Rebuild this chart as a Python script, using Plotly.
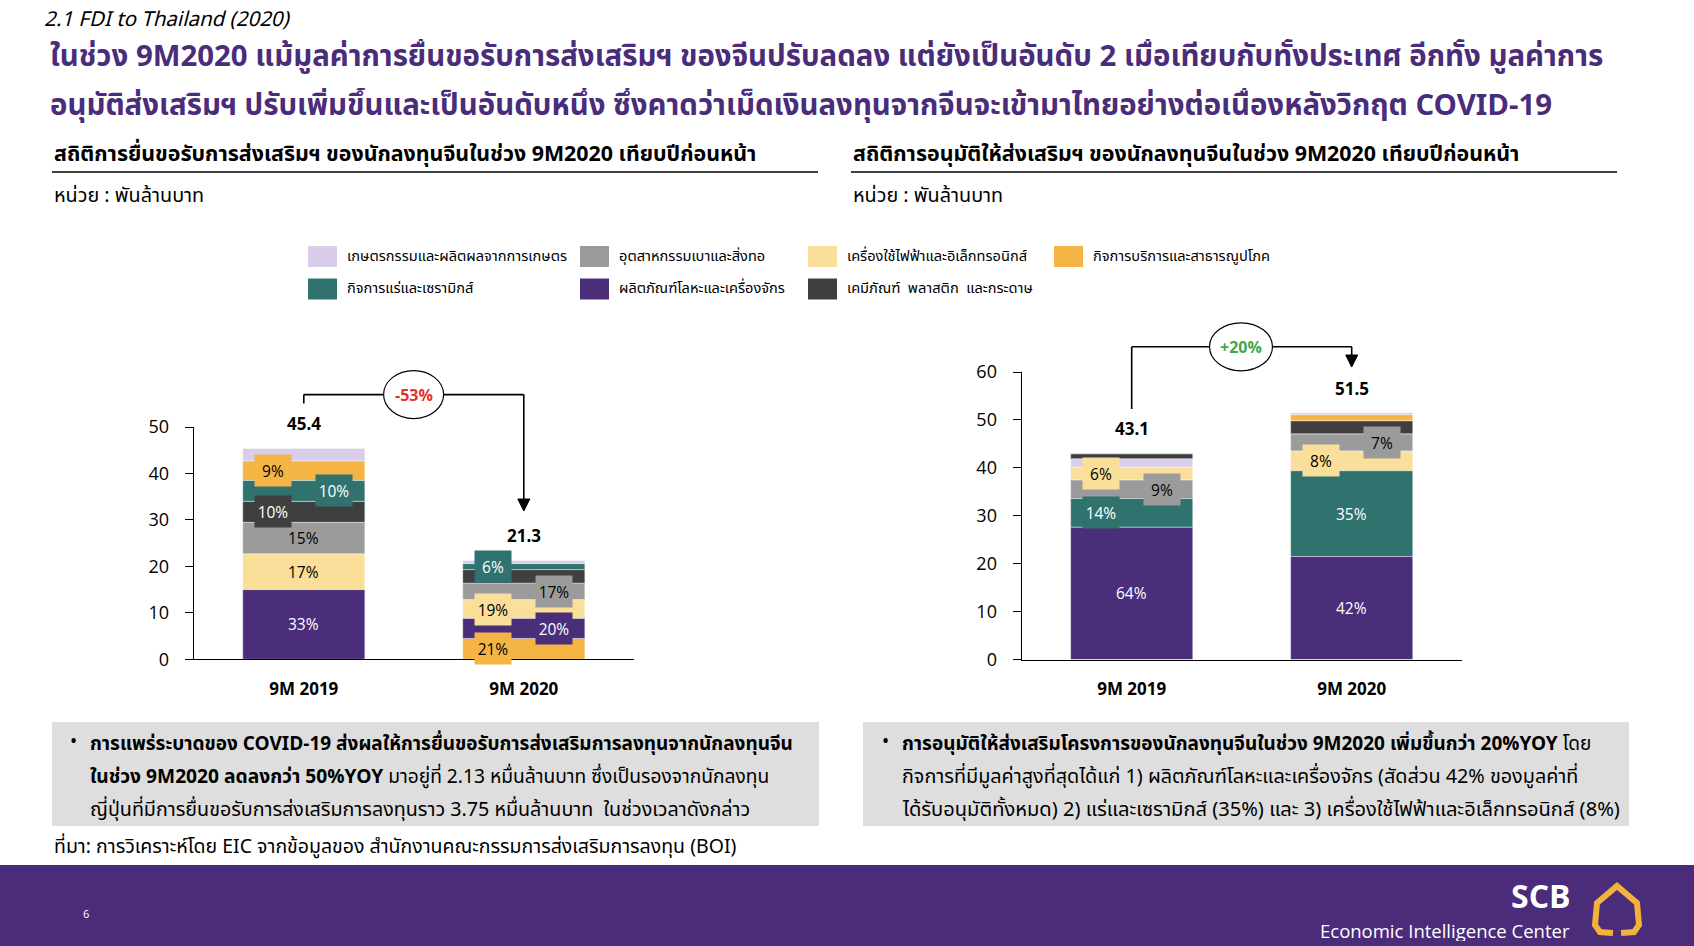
import plotly.graph_objects as go

# ---------------- DATA ----------------
CATEGORIES = ["9M 2019", "9M 2020"]

SECTORS = [
    "เกษตรกรรมและผลิตผลจากการเกษตร",
    "อุตสาหกรรมเบาและสิ่งทอ",
    "เครื่องใช้ไฟฟ้าและอิเล็กทรอนิกส์",
    "กิจการบริการและสาธารณูปโภค",
    "กิจการแร่และเซรามิกส์",
    "ผลิตภัณฑ์โลหะและเครื่องจักร",
    "เคมีภัณฑ์  พลาสติก  และกระดาษ",
]
COLORS = ["#D9CDEA", "#9B9B9B", "#F9DF9A", "#F4B544", "#30736E", "#4A2E7A", "#3F3F3F"]
TEXT_COLORS = ["#000000", "#000000", "#000000", "#000000", "#FFFFFF", "#FFFFFF", "#FFFFFF"]

# applications (thousand million baht), sector order as SECTORS
APP_2019 = [2.7, 6.8, 7.7, 4.2, 4.5, 15.0, 4.5]
APP_2020 = [0.7, 3.6, 4.0, 4.5, 1.3, 4.3, 2.9]
# approvals
APR_2019 = [1.8, 3.9, 2.6, 0.2, 6.0, 27.6, 1.0]
APR_2020 = [0.4, 3.6, 4.1, 1.3, 17.9, 21.5, 2.7]

# stacking order bottom -> top (sector indices)
APP_ORDER_2019 = [5, 2, 1, 6, 4, 3, 0]
APP_ORDER_2020 = [3, 5, 2, 1, 6, 4, 0]
APR_ORDER_2019 = [5, 4, 1, 2, 0, 6, 3]
APR_ORDER_2020 = [5, 4, 2, 1, 6, 3, 0]

# which segments carry a % label, and horizontal offset of the label (bar-width units)
APP_LAB_2019 = {5: 0, 2: 0, 1: 0, 6: -0.25, 4: 0.25, 3: -0.25}
APP_LAB_2020 = {3: -0.25, 5: 0.25, 2: -0.25, 1: 0.25, 4: -0.25}
APR_LAB_2019 = {5: 0, 4: -0.25, 1: 0.25, 2: -0.25}
APR_LAB_2020 = {5: 0, 4: 0, 2: -0.25, 1: 0.25}

CHANGE_LABELS = ["-53%", "+20%"]

# ---------------- LAYOUT HELPERS ----------------
W, H = 1694, 946
def px(x):
    return x / W
def py(y):
    return 1 - y / H

NUM_FONT = "Open Sans, Noto Sans, sans-serif"
THAI_FONT = "Tahoma, 'Noto Sans Thai', 'Noto Sans Thai UI', 'Noto Sans', sans-serif"
PURPLE = "#4A2C7B"
BAR_W = 0.555

panels = [
    dict(vals=[APP_2019, APP_2020], orders=[APP_ORDER_2019, APP_ORDER_2020],
         labels=[APP_LAB_2019, APP_LAB_2020], xa="x", ya="y",
         xdom=(px(193.8), px(633.8)), ydom=(py(659.3), py(427.1)), ymax=50,
         change=CHANGE_LABELS[0], ccolor="#E8302A",
         start_y=403.6, h_y=394.6, tip_y=511, ell_cx=413.6, ell_w=60, ell_h=48),
    dict(vals=[APR_2019, APR_2020], orders=[APR_ORDER_2019, APR_ORDER_2020],
         labels=[APR_LAB_2019, APR_LAB_2020], xa="x2", ya="y2",
         xdom=(px(1021.7), px(1461.7)), ydom=(py(659.6), py(372.0)), ymax=60,
         change=CHANGE_LABELS[1], ccolor="#3DAA4A",
         start_y=409, h_y=346.8, tip_y=367, ell_cx=1241, ell_w=63, ell_h=48),
]

fig = go.Figure()
annotations = []
shapes = []

for p in panels:
    for s in range(len(SECTORS)):
        ys, bases = [], []
        for j in range(2):
            order = p["orders"][j]
            pos = order.index(s)
            bases.append(sum(p["vals"][j][k] for k in order[:pos]))
            ys.append(p["vals"][j][s])
        fig.add_trace(go.Bar(
            x=CATEGORIES, y=ys, base=bases, width=BAR_W,
            marker=dict(color=COLORS[s], line=dict(color="rgba(255,255,255,0.7)", width=0.6)),
            xaxis=p["xa"], yaxis=p["ya"], showlegend=False, name=SECTORS[s],
            hovertemplate="%{x}: %{y}<extra>" + SECTORS[s] + "</extra>",
        ))
        # % labels
        for j in range(2):
            if s in p["labels"][j]:
                off = p["labels"][j][s]
                total = sum(p["vals"][j])
                v = ys[j]
                ann = dict(x=j + off * BAR_W, y=bases[j] + v / 2, xref=p["xa"], yref=p["ya"],
                           text=f"{round(100 * v / total)}%", showarrow=False,
                           xanchor="center", yanchor="middle",
                           font=dict(family=NUM_FONT, size=15.5, color=TEXT_COLORS[s]))
                if off != 0:
                    ann.update(bgcolor=COLORS[s], width=34, height=29)
                annotations.append(ann)
    # totals
    totals = [sum(p["vals"][j]) for j in range(2)]
    for j in range(2):
        annotations.append(dict(x=j, y=totals[j], xref=p["xa"], yref=p["ya"], text=f"<b>{totals[j]:.1f}</b>",
                                showarrow=False, xanchor="center", yanchor="bottom", yshift=11,
                                font=dict(family=NUM_FONT, size=17, color="#000")))
    # bracket
    x0p = p["xdom"][0] + 0.25 * (p["xdom"][1] - p["xdom"][0])
    x1p = p["xdom"][0] + 0.75 * (p["xdom"][1] - p["xdom"][0])
    line = dict(color="#000", width=1.6)
    shapes.append(dict(type="line", xref="paper", yref="paper", x0=x0p, x1=x0p,
                       y0=py(p["start_y"]), y1=py(p["h_y"]), line=line))
    shapes.append(dict(type="line", xref="paper", yref="paper", x0=x0p, x1=x1p,
                       y0=py(p["h_y"]), y1=py(p["h_y"]), line=line))
    shapes.append(dict(type="line", xref="paper", yref="paper", x0=x1p, x1=x1p,
                       y0=py(p["h_y"]), y1=py(p["tip_y"] - 10), line=line))
    tx = x1p * W
    shapes.append(dict(type="path", xref="paper", yref="paper",
                       path=f"M {px(tx-6)},{py(p['tip_y']-12)} L {px(tx+6)},{py(p['tip_y']-12)} L {px(tx)},{py(p['tip_y'])} Z",
                       fillcolor="#000", line=dict(color="#000", width=1)))
    shapes.append(dict(type="circle", xref="paper", yref="paper",
                       x0=px(p["ell_cx"] - p["ell_w"] / 2), x1=px(p["ell_cx"] + p["ell_w"] / 2),
                       y0=py(p["h_y"] + p["ell_h"] / 2), y1=py(p["h_y"] - p["ell_h"] / 2),
                       fillcolor="#FFFFFF", line=dict(color="#000", width=1.2)))
    annotations.append(dict(x=px(p["ell_cx"]), y=py(p["h_y"]), xref="paper", yref="paper",
                            text=f"<b>{p['change']}</b>", showarrow=False,
                            xanchor="center", yanchor="middle",
                            font=dict(family=NUM_FONT, size=16, color=p["ccolor"])))

# ---------------- AXES ----------------
for i, p in enumerate(panels):
    sx = "" if i == 0 else "2"
    fig.update_layout(**{
        "xaxis" + sx: dict(domain=list(p["xdom"]), type="category", range=[-0.5, 1.5],
                           showline=True, linecolor="#000", linewidth=1.3, ticks="",
                           showgrid=False, zeroline=False, anchor="y" + sx, fixedrange=True,
                           automargin=False,
                           tickfont=dict(family=NUM_FONT, size=17, color="#000", weight="bold"),
                           ticklabelstandoff=14),
        "yaxis" + sx: dict(domain=list(p["ydom"]), range=[0, p["ymax"]], dtick=10,
                           showline=True, linecolor="#000", linewidth=1.3, ticks="outside",
                           ticklen=8, tickcolor="#000", tickwidth=1.3, showgrid=False,
                           zeroline=False, anchor="x" + sx, fixedrange=True, automargin=False,
                           tickfont=dict(family=NUM_FONT, size=18, color="#000"),
                           ticklabelstandoff=12),
    })

# ---------------- TEXT / DECOR ----------------
def txt(x, y, text, size, color="#000", bold=False, italic=False, anchor="left", family=THAI_FONT, height=None):
    a = dict(x=px(x), y=py(y), xref="paper", yref="paper", text=text,
             showarrow=False, xanchor=anchor, yanchor="middle",
             font=dict(family=family, size=size, color=color,
                       weight="bold" if bold else "normal",
                       style="italic" if italic else "normal"))
    if height:
        a["height"] = height
    annotations.append(a)

txt(42, 19, "2.1 FDI to Thailand (2020)", 20.5, italic=True, height=24)
txt(48, 57, "ในช่วง 9M2020 แม้มูลค่าการยื่นขอรับการส่งเสริมฯ ของจีนปรับลดลง แต่ยังเป็นอันดับ 2 เมื่อเทียบกับทั้งประเทศ อีกทั้ง มูลค่าการ",
    29.4, color=PURPLE, bold=True, height=36)
txt(48, 106, "อนุมัติส่งเสริมฯ ปรับเพิ่มขึ้นและเป็นอันดับหนึ่ง ซึ่งคาดว่าเม็ดเงินลงทุนจากจีนจะเข้ามาไทยอย่างต่อเนื่องหลังวิกฤต COVID-19",
    29.4, color=PURPLE, bold=True, height=36)
txt(52, 154, "สถิติการยื่นขอรับการส่งเสริมฯ ของนักลงทุนจีนในช่วง 9M2020 เทียบปีก่อนหน้า", 21.4, bold=True)
txt(851, 154, "สถิติการอนุมัติให้ส่งเสริมฯ ของนักลงทุนจีนในช่วง 9M2020 เทียบปีก่อนหน้า", 21.4, bold=True)
shapes.append(dict(type="line", xref="paper", yref="paper", x0=px(52), x1=px(818), y0=py(172), y1=py(172),
                   line=dict(color="#000", width=1.3)))
shapes.append(dict(type="line", xref="paper", yref="paper", x0=px(851), x1=px(1617), y0=py(172), y1=py(172),
                   line=dict(color="#000", width=1.3)))
txt(52, 196.5, "หน่วย : พันล้านบาท", 19.8)
txt(851, 196.5, "หน่วย : พันล้านบาท", 19.8)

# legend
LEG_COLS = [308, 580, 808, 1054]
LEG_ROWS = [256.5, 289]
LEG_LAYOUT = [(0, 0), (0, 1), (0, 2), (0, 3), (1, 0), (1, 1), (1, 2)]  # (row, col) for sector idx
for s, (r, c) in enumerate(LEG_LAYOUT):
    x0 = LEG_COLS[c]
    yc = LEG_ROWS[r]
    shapes.append(dict(type="rect", xref="paper", yref="paper", x0=px(x0), x1=px(x0 + 29),
                       y0=py(yc + 10.5), y1=py(yc - 10.5), fillcolor=COLORS[s], line=dict(width=0)))
    txt(x0 + 37, yc, SECTORS[s], 14.6)

# bottom gray boxes
for x0, x1 in [(52, 819), (863, 1629)]:
    shapes.append(dict(type="rect", xref="paper", yref="paper", x0=px(x0), x1=px(x1),
                       y0=py(826), y1=py(722), fillcolor="#DEDEDE", line=dict(width=0), layer="below"))

LEFT_LINES = [
    "<b>การแพร่ระบาดของ COVID-19 ส่งผลให้การยื่นขอรับการส่งเสริมการลงทุนจากนักลงทุนจีน</b>",
    "<b>ในช่วง 9M2020 ลดลงกว่า 50%YOY</b> มาอยู่ที่ 2.13 หมื่นล้านบาท ซึ่งเป็นรองจากนักลงทุน",
    "ญี่ปุ่นที่มีการยื่นขอรับการส่งเสริมการลงทุนราว 3.75 หมื่นล้านบาท  ในช่วงเวลาดังกล่าว",
]
RIGHT_LINES = [
    "<b>การอนุมัติให้ส่งเสริมโครงการของนักลงทุนจีนในช่วง 9M2020 เพิ่มขึ้นกว่า 20%YOY</b> โดย",
    "กิจการที่มีมูลค่าสูงที่สุดได้แก่ 1) ผลิตภัณฑ์โลหะและเครื่องจักร (สัดส่วน 42% ของมูลค่าที่",
    "ได้รับอนุมัติทั้งหมด) 2) แร่และเซรามิกส์ (35%) และ 3) เครื่องใช้ไฟฟ้าและอิเล็กทรอนิกส์ (8%)",
]
LEFT_SIZES = [19.0, 19.2, 19.7]
RIGHT_SIZES = [19.0, 19.8, 20.1]
LINE_Y = [744, 777, 810]
txt(68, 742, "•", 19)
txt(880, 742, "•", 19)
for yy, t, fs in zip(LINE_Y, LEFT_LINES, LEFT_SIZES):
    txt(88, yy, t, fs)
for yy, t, fs in zip(LINE_Y, RIGHT_LINES, RIGHT_SIZES):
    txt(900, yy, t, fs)

txt(52, 847, "ที่มา: การวิเคราะห์โดย EIC จากข้อมูลของ สำนักงานคณะกรรมการส่งเสริมการลงทุน (BOI)", 19.5)

# footer
shapes.append(dict(type="rect", xref="paper", yref="paper", x0=0, x1=1, y0=0, y1=py(865),
                   fillcolor=PURPLE, line=dict(width=0), layer="below"))
txt(86, 913, "6", 11, color="#FFFFFF", anchor="center", family=NUM_FONT)
txt(1573, 895, "<b>SCB</b>", 32, color="#FFFFFF", anchor="right", family=NUM_FONT, height=30)
txt(1572, 930, "Economic Intelligence Center", 18.5, color="#FFFFFF", anchor="right", family=NUM_FONT, height=22)
shapes.append(dict(type="path", xref="paper", yref="paper",
                   path=(f"M {px(1613)},{py(933)} L {px(1600)},{py(932)} L {px(1595)},{py(925)} "
                         f"L {px(1597)},{py(903)} L {px(1617)},{py(886)} L {px(1637)},{py(903)} "
                         f"L {px(1639)},{py(925)} L {px(1634)},{py(932)} L {px(1621)},{py(933)}"),
                   line=dict(color="#F2B23C", width=6)))

fig.update_layout(
    width=W, height=H, margin=dict(l=0, r=0, t=0, b=0, autoexpand=False),
    paper_bgcolor="#FFFFFF", plot_bgcolor="rgba(0,0,0,0)",
    barmode="overlay", showlegend=False,
    annotations=annotations, shapes=shapes,
)

fig.write_html("out.html")
